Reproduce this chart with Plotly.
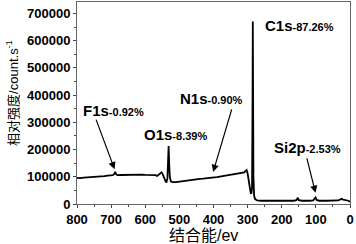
import plotly.graph_objects as go

# Binding energy (eV) and intensity (counts/s)
energy = [800, 790, 780, 770, 760, 750, 740, 730, 720, 710, 700, 695, 690, 688, 686, 682,
          670, 660, 650, 640, 630, 620, 610, 600, 590, 580, 570, 565, 560, 555, 552, 549,
          545, 541, 538, 535, 533, 531.5, 530, 528, 525, 520, 510, 500, 490, 480, 470, 460,
          450, 440, 430, 420, 410, 402, 400, 398, 390, 380, 370, 360, 350, 340, 330, 320,
          315, 310, 306, 303, 300, 297, 294, 291, 289, 287, 285.5, 284.8, 284, 283, 281, 278,
          272, 260, 240, 220, 200, 180, 165, 157, 153, 150, 140, 120, 108, 104, 101, 98,
          90, 70, 50, 35, 28, 25, 20, 10, 5, 0]
intensity = [96000, 95000, 97000, 97500, 99000, 100000, 100500, 102000, 102500, 104000, 105000, 106000, 111000, 118000, 110000, 106000,
             106500, 107000, 107500, 107000, 108000, 107500, 108000, 107000, 107500, 107000, 106000, 103000, 107000, 113000, 116000, 110000,
             95000, 85000, 79000, 95000, 160000, 213000, 150000, 100000, 83000, 80000, 80000, 82000, 83000, 85000, 86000, 88000,
             90000, 92000, 93000, 95000, 96000, 98000, 100000, 98000, 99000, 101000, 103000, 104000, 106000, 108000, 110000, 112000,
             113000, 116000, 122000, 125000, 112000, 85000, 55000, 40000, 38000, 60000, 400000, 670000, 420000, 100000, 30000, 18000,
             13000, 12000, 11500, 11000, 11000, 11000, 12000, 14000, 23000, 14000, 12000, 12000, 13000, 20000, 24000, 15000,
             12000, 12000, 12000, 13000, 17000, 19000, 16000, 15000, 12000, 8000]

y_ticks = [0, 100000, 200000, 300000, 400000, 500000, 600000, 700000]
x_ticks = [800, 700, 600, 500, 400, 300, 200, 100, 0]

x_title = "结合能/ev"
y_title = "相对强度/count.s<sup>-1</sup>"

# peak labels: (name, percent, text x, text y)
labels = [("F1s", "-0.92%", 692, 345000),
          ("O1s", "-8.39%", 510, 254000),
          ("N1s", "-0.90%", 407, 389000),
          ("C1s", "-87.26%", 148, 657000),
          ("Si2p", "-2.53%", 126, 206000)]
# arrows: (head eV, head intensity, tail dx px, tail dy px)
arrows = [(690, 128000, -19, -51),
          (401, 118000, 19, -64),
          (101, 41000, -9, -36)]

fig = go.Figure()
fig.add_trace(go.Scatter(x=energy, y=intensity, mode="lines",
                         line=dict(color="black", width=1.8), showlegend=False))

for name, pct, lx, ly in labels:
    fig.add_annotation(x=lx, y=ly, xref="x", yref="y", showarrow=False,
                       text=f"<b>{name}</b><span style='font-size:11px'><b>{pct}</b></span>",
                       font=dict(family="Liberation Sans, Arial", size=15, color="black"),
                       xanchor="center", yanchor="middle")

for hx, hy, dx, dy in arrows:
    fig.add_annotation(x=hx, y=hy, xref="x", yref="y", text="", showarrow=True,
                       ax=dx, ay=dy, arrowhead=2, arrowsize=1.2, arrowwidth=1.2,
                       arrowcolor="black")

title_font = dict(family="Liberation Sans, Noto Sans CJK SC", color="black")
fig.add_annotation(x=0.465, y=0, xref="paper", yref="paper", yshift=-31,
                   text=x_title, showarrow=False, xanchor="center", yanchor="middle",
                   font=dict(size=16, **title_font))
fig.add_annotation(x=0, y=0.55, xref="paper", yref="paper", xshift=-65,
                   text=y_title, showarrow=False, textangle=-90,
                   xanchor="center", yanchor="middle",
                   font=dict(size=13, **title_font))

tickfont = dict(family="Liberation Sans, Arial", size=13, color="black", weight="bold")
fig.update_layout(
    width=356, height=244,
    margin=dict(l=77, r=6, t=2, b=40),
    paper_bgcolor="white", plot_bgcolor="white",
    xaxis=dict(range=[800, 0], tickvals=x_ticks, ticks="outside", ticklen=3,
               tickwidth=1, tickcolor="#444", showline=True, linecolor="#666", linewidth=1,
               mirror=True, showgrid=False, zeroline=False, tickfont=tickfont,
               minor=dict(dtick=50, ticks="outside", ticklen=2, tickcolor="#444")),
    yaxis=dict(range=[0, 742000], tickvals=y_ticks, tickformat="d", ticks="outside", ticklen=3,
               tickwidth=1, tickcolor="#444", showline=True, linecolor="#666", linewidth=1,
               mirror=True, showgrid=False, zeroline=False, tickfont=tickfont,
               minor=dict(dtick=50000, ticks="outside", ticklen=2, tickcolor="#444")),
)

fig.write_html("out.html", config={"displayModeBar": False},
               post_script="document.body.style.margin='0';")
